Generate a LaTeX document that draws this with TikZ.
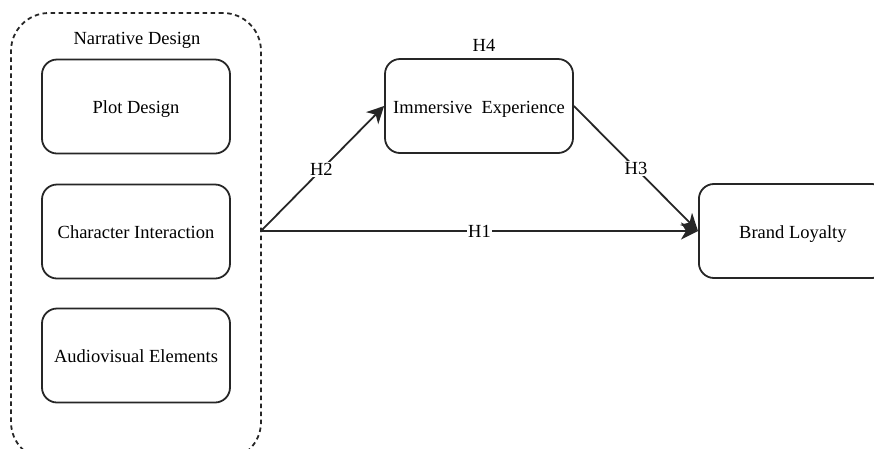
\documentclass[tikz,border=0pt]{standalone}
\usepackage{fontspec}
\setmainfont{Liberation Serif}
\usetikzlibrary{arrows.meta}
\begin{document}
\begin{tikzpicture}[x=1pt,y=-1pt,
  txt/.style={font=\fontsize{18.5}{22}\selectfont,text depth=0pt},
  box/.style={txt,draw=black!85,line width=1.8pt,rounded corners=15pt,
    minimum width=188pt,minimum height=94pt,inner sep=0pt},
  link/.style={draw=black!85,line width=1.8pt,-{Stealth[length=17pt,width=17pt,inset=5pt]}},
  tag/.style={txt,fill=white,inner sep=1.5pt}]
\useasboundingbox (0,0) rectangle (874,448);
% grouping frame for the narrative design factors
\node[draw=black!85,line width=1.8pt,dash pattern=on 4.5pt off 3.5pt,rounded corners=38pt,
  minimum width=250pt,minimum height=447pt,inner sep=0pt] (nd) at (136,236.5) {};
\node[txt] (ndt) at (137,38) {Narrative Design};
\node[box] (plot) at (136,106.5) {\raisebox{-2pt}{Plot Design}};
\node[box] (chara) at (136,231.5) {\raisebox{-2pt}{Character Interaction}};
\node[box] (av) at (136,355.5) {\raisebox{-2pt}{Audiovisual Elements}};
\node[box] (imm) at (479,106) {\raisebox{-2pt}{Immersive\ \ Experience}};
\node[txt] (h4) at (484,45) {H4};
\node[box,anchor=west] (bl) at (698,231) {\raisebox{-2pt}{Brand Loyalty}};
\coordinate (src) at (261,231);
\draw[link] (src) -- (imm.west) node[tag,pos=0.49] {H2};
\draw[link] (src) -- (bl.west) node[tag,pos=0.5] {H1};
\draw[link] (imm.east) -- (bl.west) node[tag,pos=0.5] {H3};
\end{tikzpicture}
\end{document}
